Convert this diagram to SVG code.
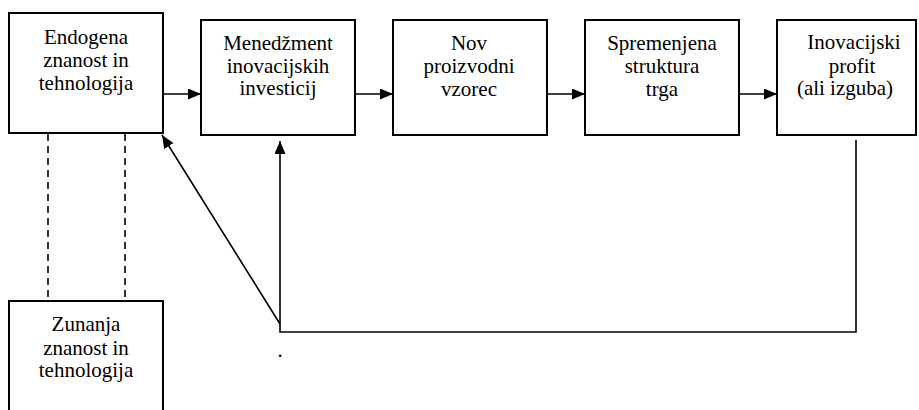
<svg xmlns="http://www.w3.org/2000/svg" width="919" height="410" viewBox="0 0 919 410">
<style>
.box{fill:#fff;stroke:#000;stroke-width:2}
.c{fill:none;stroke:#000;stroke-width:1.6}
.d{fill:none;stroke:#000;stroke-width:1.6;stroke-dasharray:7,5}
</style>
<defs>
<marker id="ah" viewBox="0 0 13 11" refX="13" refY="5.5" markerWidth="13" markerHeight="11" markerUnits="userSpaceOnUse" orient="auto">
<path d="M0,0 L13,5.5 L0,11 Z" fill="#000"/>
</marker>
</defs>
<rect width="919" height="410" fill="#fff"/>
<g id="connectors">
<line class="c" x1="163" y1="94" x2="201" y2="94" marker-end="url(#ah)"/>
<line class="c" x1="355" y1="94" x2="393" y2="94" marker-end="url(#ah)"/>
<line class="c" x1="547" y1="94" x2="585" y2="94" marker-end="url(#ah)"/>
<line class="c" x1="739" y1="94" x2="777" y2="94" marker-end="url(#ah)"/>
<line class="d" x1="48" y1="134" x2="48" y2="301"/>
<line class="d" x1="125" y1="134" x2="125" y2="301"/>
<polyline class="c" points="856,140 856,332 280,332 280,141" marker-end="url(#ah)"/>
<line class="c" x1="280" y1="324" x2="162" y2="135" marker-end="url(#ah)"/>
</g>
<g font-family="Liberation Serif, Times New Roman, DejaVu Serif, serif" font-size="21" text-anchor="middle" fill="#000">
<g id="n1"><rect class="box" x="9" y="13" width="154" height="120"/>
<text x="86" y="44">Endogena</text><text x="86" y="67">znanost in</text><text x="86" y="90">tehnologija</text></g>
<g id="n2"><rect class="box" x="201" y="20" width="154" height="115"/>
<text x="278" y="50">Menedžment</text><text x="278" y="73">inovacijskih</text><text x="278" y="95">investicij</text></g>
<g id="n3"><rect class="box" x="393" y="20" width="154" height="115"/>
<text x="469" y="50">Nov</text><text x="469" y="73">proizvodni</text><text x="469" y="96">vzorec</text></g>
<g id="n4"><rect class="box" x="585" y="20" width="154" height="115"/>
<text x="662" y="50">Spremenjena</text><text x="662" y="73">struktura</text><text x="662" y="96">trga</text></g>
<g id="n5"><rect class="box" x="777" y="20" width="139" height="115"/>
<text x="854" y="49">Inovacijski</text><text x="852" y="73">profit</text><text x="845" y="95">(ali izguba)</text></g>
<g id="n6"><rect class="box" x="9" y="301" width="154" height="120"/>
<text x="86" y="331">Zunanja</text><text x="86" y="355">znanost in</text><text x="86" y="377">tehnologija</text></g>
<text x="280" y="357">.</text>
</g>
</svg>
